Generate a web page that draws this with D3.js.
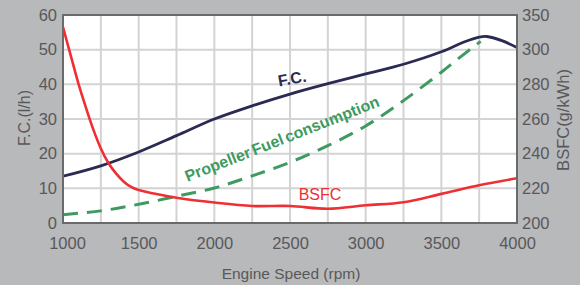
<!DOCTYPE html>
<html><head><meta charset="utf-8">
<script src="https://cdn.jsdelivr.net/npm/d3@7"></script>
<style>
html,body{margin:0;padding:0;background:#b8b9bb;}
svg{display:block;font-family:"Liberation Sans",Arial,sans-serif;}
</style></head>
<body>
<svg id="c" width="580" height="285"></svg>
<script>
// ---- data ----
const fcRpm   = [1000,1250,1500,1750,2000,2250,2500,2750,3000,3250,3500,3650,3750,3800,3900,4000];
const fcVal   = [13.5,16.5,20.5,25.2,30.0,33.8,37.2,40.2,43.0,45.8,49.4,52.2,53.6,53.8,52.6,50.6];
const propRpm = [1000,1250,1500,1750,2000,2250,2500,2750,3000,3250,3500,3600,3700,3760];
const propVal = [2.4,3.5,5.4,7.7,10.1,13.6,17.5,22.3,28.0,35.3,43.5,47.0,50.4,52.4];
const bsfcRpm = [1000,1050,1100,1150,1200,1250,1300,1350,1400,1450,1500,1600,1750,2000,2250,2500,2750,3000,3250,3500,3750,4000];
const bsfcVal = [313,297,281,267,254,243,234.6,228.6,224,220.8,219,217,214.6,211.8,209.8,209.8,208.2,210.2,212,216.8,221.8,225.8];
const xTicks = [1000,1500,2000,2500,3000,3500,4000];
const leftTicks = [0,10,20,30,40,50,60];
const rightTickVals = [200,220,240,260,280,300,320];
const rightTickLabels = ["200","220","240","260","280","300","350"];

const svg = d3.select("#c");
const L=63,R=517,T=15,B=223;
const x = d3.scaleLinear().domain([1000,4000]).range([L,R]);
const yL = d3.scaleLinear().domain([0,60]).range([B,T]);
const yR = d3.scaleLinear().domain([200,320]).range([B,T]);

svg.append("rect").attr("x",L).attr("y",T).attr("width",R-L).attr("height",B-T).attr("fill","#fff");

// grid
const g = svg.append("g");
g.selectAll("line.v").data(d3.range(1250,4000,250)).join("line")
  .attr("x1",d=>x(d)).attr("x2",d=>x(d)).attr("y1",T).attr("y2",B)
  .attr("stroke","#d3d3d3").attr("stroke-width",2);
g.selectAll("line.h").data([10,20,30,40,50]).join("line")
  .attr("y1",d=>yL(d)).attr("y2",d=>yL(d)).attr("x1",L).attr("x2",R)
  .attr("stroke","#d3d3d3").attr("stroke-width",2);

const curve = d3.curveCatmullRom.alpha(0.5);
const lineL = d3.line().x(d=>x(d[0])).y(d=>yL(d[1])).curve(curve);
const lineR = d3.line().x(d=>x(d[0])).y(d=>yR(d[1])).curve(curve);

svg.append("clipPath").attr("id","pc").append("rect")
  .attr("x",L).attr("y",T-5).attr("width",R-L).attr("height",B-T+5);
const plot = svg.append("g").attr("clip-path","url(#pc)");

plot.append("path").datum(d3.zip(propRpm,propVal)).attr("d",lineL)
  .attr("fill","none").attr("stroke","#3f9a62").attr("stroke-width",3)
  .attr("stroke-dasharray","15,9");
plot.append("path").datum(d3.zip(fcRpm,fcVal)).attr("d",lineL)
  .attr("fill","none").attr("stroke","#2b2a52").attr("stroke-width",2.8);
plot.append("path").datum(d3.zip(bsfcRpm,bsfcVal)).attr("d",lineR)
  .attr("fill","none").attr("stroke","#ee2f33").attr("stroke-width",2.6);

// border
svg.append("rect").attr("x",L).attr("y",T).attr("width",R-L).attr("height",B-T)
  .attr("fill","none").attr("stroke","#6a6a6a").attr("stroke-width",2);

// axes
const tickColor = "#58585a";
const ax = svg.append("g").attr("transform",`translate(0,${B})`)
  .call(d3.axisBottom(x).tickValues(xTicks).tickFormat(d3.format("d")).tickSize(0).tickPadding(14));
const ayl = svg.append("g").attr("transform",`translate(${L},0)`)
  .call(d3.axisLeft(yL).tickValues(leftTicks).tickSize(0).tickPadding(6));
const ayr = svg.append("g").attr("transform",`translate(${R},0)`)
  .call(d3.axisRight(yR).tickValues(rightTickVals).tickFormat((d,i)=>rightTickLabels[i]).tickSize(0).tickPadding(5));
[ax,ayl,ayr].forEach(a=>{
  a.select(".domain").remove();
  a.selectAll("text").attr("fill",tickColor).style("font-size","16.5px")
   .style("font-family","'Liberation Sans',Arial,sans-serif");
});
ax.selectAll("text").filter(d=>d===1000).attr("dx",4);

// axis titles
svg.append("text").attr("transform","translate(30,118) rotate(-90)")
  .attr("text-anchor","middle").attr("fill",tickColor).style("font-size","16px").text("F.C.(l/h)");
svg.append("text").attr("transform","translate(569,120) rotate(-90)")
  .attr("text-anchor","middle").attr("fill",tickColor).style("font-size","16.5px").text("BSFC(g/kWh)");
svg.append("text").attr("x",291).attr("y",279)
  .attr("text-anchor","middle").attr("fill",tickColor).style("font-size","15.5px").text("Engine Speed (rpm)");

// series labels
svg.append("text").attr("transform","translate(293,84) rotate(-10)")
  .attr("text-anchor","middle").attr("fill","#2b2a52").style("font-size","16px").style("font-weight","bold").text("F.C.");
svg.append("text").attr("transform","translate(284,144) rotate(-21.5)")
  .attr("text-anchor","middle").attr("fill","#3f9a62").style("font-size","16px").style("font-weight","bold")
  .style("word-spacing","-2px").text("Propeller Fuel consumption");
svg.append("text").attr("x",320).attr("y",200)
  .attr("text-anchor","middle").attr("fill","#ee2f33").style("font-size","16px").text("BSFC");
</script>
</body></html>
